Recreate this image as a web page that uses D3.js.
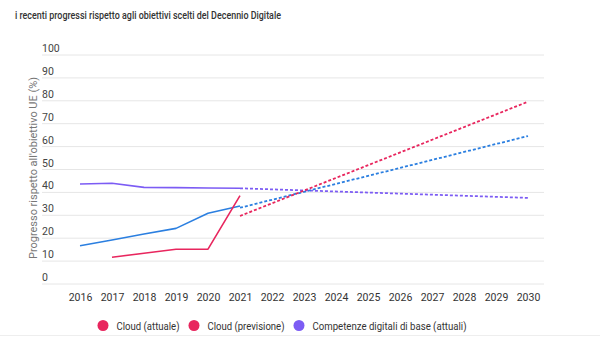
<!DOCTYPE html>
<meta charset="utf-8">
<style>
  body { margin: 0; background: #fff; }
  text { font-family: Roboto, "Noto Sans", sans-serif; }
</style>
<body>
<script src="https://d3js.org/d3.v7.min.js"></script>
<script>

// dati
var years = [2016, 2017, 2018, 2019, 2020, 2021, 2022, 2023, 2024, 2025, 2026, 2027, 2028, 2029, 2030];
var yTicks = [0, 10, 20, 30, 40, 50, 60, 70, 80, 90, 100];

var cloudYears = [2017, 2018, 2019, 2020, 2021];
var cloudActual = [11.7, 13.4, 15.2, 15.2, 38.6];
var cloudForecastYears = [2021, 2030];
var cloudForecast = [29.7, 79.6];

var blueYears = [2016, 2017, 2018, 2019, 2020, 2021];
var blueActual = [16.7, 19.2, 21.8, 24.3, 30.9, 34.1];
var blueForecastYears = [2021, 2030];
var blueForecast = [33.3, 64.6];

var skillsYears = [2016, 2017, 2018, 2019, 2020, 2021];
var skillsActual = [43.7, 44.0, 42.2, 42.1, 41.9, 41.8];
var skillsForecastYears = [2021, 2030];
var skillsForecast = [41.8, 37.6];

var legendLabels = ["Cloud (attuale)", "Cloud (previsione)", "Competenze digitali di base (attuali)"];

var red = "#e8265e", blue = "#2b7fe0", purple = "#7c5cf4";

var width = 600, height = 344;

var svg = d3.select("body").append("svg")
    .attr("width", width)
    .attr("height", height);

var x = d3.scaleLinear().domain([2016, 2030]).range([80, 528]);
var y = d3.scaleLinear().domain([0, 100]).range([284, 55]);

// titolo
svg.append("text")
    .attr("x", 15)
    .attr("y", 18.5)
    .attr("font-size", 10.5)
    .attr("font-weight", 500)
    .attr("fill", "#333")
    .attr("textLength", 266)
    .attr("lengthAdjust", "spacingAndGlyphs")
    .text("i recenti progressi rispetto agli obiettivi scelti del Decennio Digitale");

// griglia e etichette asse y
var grid = svg.append("g");
grid.selectAll("line")
  .data(yTicks)
  .enter().append("line")
    .attr("x1", 42)
    .attr("x2", 544)
    .attr("y1", function(d) { return y(d); })
    .attr("y2", function(d) { return y(d); })
    .attr("stroke", "#e6e6e6")
    .attr("stroke-width", 1);

grid.selectAll("text")
  .data(yTicks)
  .enter().append("text")
    .attr("x", 42)
    .attr("y", function(d) { return y(d) - 3; })
    .attr("font-size", 10.5)
    .attr("fill", "#444")
    .text(function(d) { return d; });

// titolo asse y
svg.append("text")
    .attr("transform", "translate(37,168) rotate(-90)")
    .attr("text-anchor", "middle")
    .attr("font-size", 11.5)
    .attr("fill", "#777")
    .attr("textLength", 182)
    .attr("lengthAdjust", "spacingAndGlyphs")
    .text("Progresso rispetto all'obiettivo UE (%)");

// asse x
svg.append("g")
    .attr("transform", "translate(0,298)")
    .call(d3.axisBottom(x).tickValues(years).tickFormat(d3.format("d")).tickSize(0))
    .call(function(g) { g.select(".domain").remove(); })
    .selectAll("text")
    .attr("font-size", 10.5)
    .attr("fill", "#333")
    .attr("font-family", "Roboto, sans-serif")
    .attr("dy", 0);

function drawLine(xs, vals, color, dashed) {
  var pts = xs.map(function(d, i) { return [d, vals[i]]; });
  var line = d3.line()
      .x(function(d) { return x(d[0]); })
      .y(function(d) { return y(d[1]); });
  svg.append("path")
      .datum(pts)
      .attr("d", line)
      .attr("fill", "none")
      .attr("stroke", color)
      .attr("stroke-width", dashed ? 1.8 : 1.6)
      .attr("stroke-dasharray", dashed ? "3,2" : null)
      .attr("stroke-linejoin", "round");
}

drawLine(skillsYears, skillsActual, purple, false);
drawLine(skillsForecastYears, skillsForecast, purple, true);
drawLine(blueYears, blueActual, blue, false);
drawLine(blueForecastYears, blueForecast, blue, true);
drawLine(cloudYears, cloudActual, red, false);
drawLine(cloudForecastYears, cloudForecast, red, true);

// legenda
var legendX = [103, 194, 299];
var legendLen = [63, 77, 154];
var legendColors = [red, red, purple];
var legend = svg.append("g");
legendLabels.forEach(function(l, i) {
  legend.append("circle")
      .attr("cx", legendX[i])
      .attr("cy", 325.5)
      .attr("r", 5.5)
      .attr("fill", legendColors[i]);
  legend.append("text")
      .attr("x", legendX[i] + 13.5)
      .attr("y", 329.5)
      .attr("font-size", 10.5)
      .attr("fill", "#333")
      .attr("textLength", legendLen[i])
      .attr("lengthAdjust", "spacingAndGlyphs")
      .text(l);
});

svg.append("line")
    .attr("x1", 0).attr("x2", 600)
    .attr("y1", 335.5).attr("y2", 335.5)
    .attr("stroke", "#eee");

</script>
</body>
